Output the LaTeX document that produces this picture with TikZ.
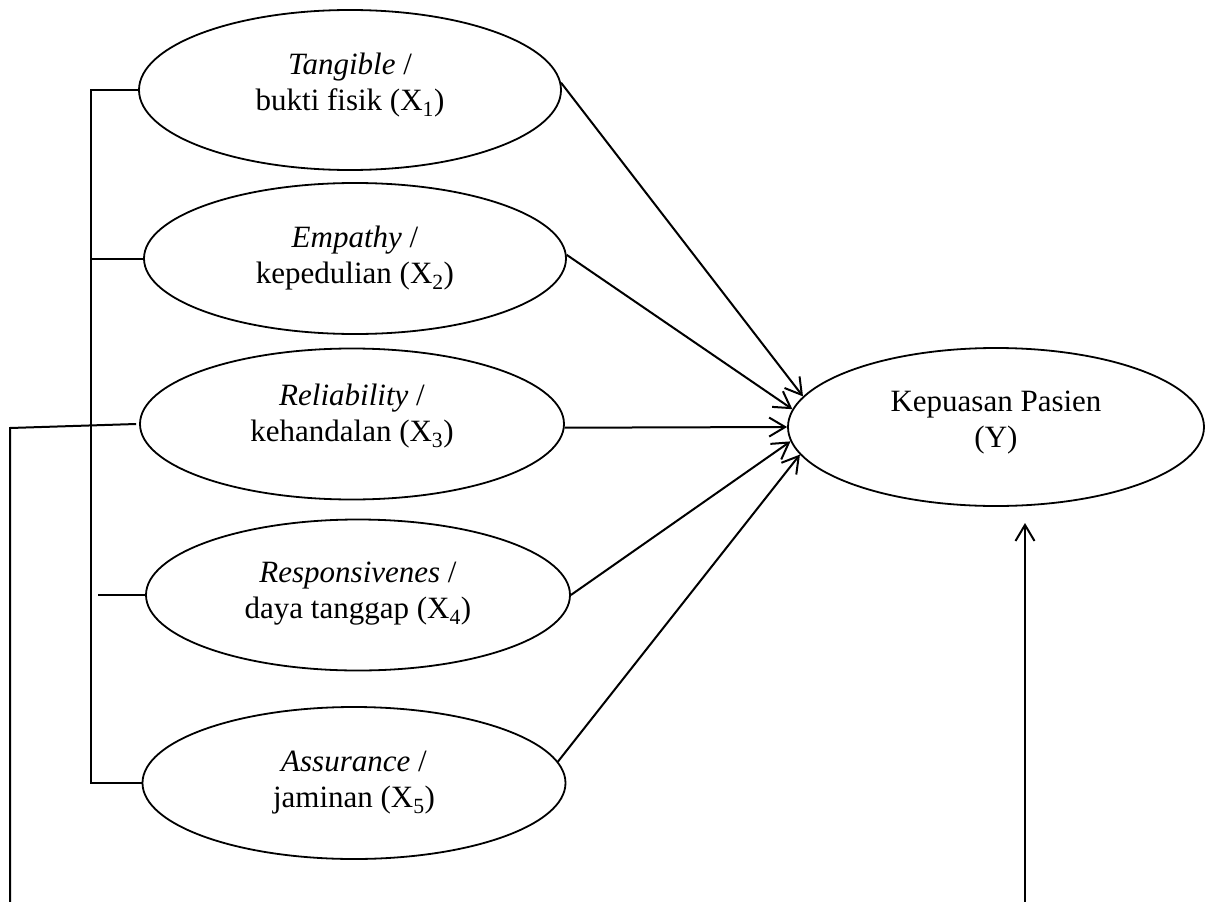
\documentclass[tikz,border=0pt]{standalone}
\usepackage{fontspec}
\setmainfont{Liberation Serif}
\usetikzlibrary{arrows.meta,shapes.geometric}
\tikzset{
  var/.style={draw, ellipse, line width=1.8pt, inner sep=0pt},
  lab/.style={inner sep=0pt, align=center, font=\fontsize{31}{36}\selectfont},
  arr/.style={-{Straight Barb[length=16pt,width=19pt]}, line width=2pt},
  ln/.style={line width=2pt},
}
\begin{document}
\begin{tikzpicture}[x=1pt,y=-1pt]
\useasboundingbox (0,0) rectangle (1208,902);
\node[var, minimum width=422pt, minimum height=160pt] (E1) at (350,90) {};
\node[var, minimum width=422pt, minimum height=151pt] (E2) at (355,258.5) {};
\node[var, minimum width=424pt, minimum height=151pt] (E3) at (352,424) {};
\node[var, minimum width=424pt, minimum height=151pt] (E4) at (358,595) {};
\node[var, minimum width=423pt, minimum height=152pt] (E5) at (354,783) {};
\node[var, minimum width=416pt, minimum height=158pt] (Y) at (996,427) {};
\node[lab] (L1) at ([yshift=5pt]E1.center) {\textit{Tangible} /\\bukti fisik (X\textsubscript{1})};
\node[lab] (L2) at (E2.center) {\textit{Empathy} /\\kepedulian (X\textsubscript{2})};
\node[lab] (L3) at ([yshift=8pt]E3.center) {\textit{Reliability} /\\kehandalan (X\textsubscript{3})};
\node[lab] (L4) at ([yshift=1pt]E4.center) {\textit{Responsivenes} /\\daya tanggap (X\textsubscript{4})};
\node[lab] (L5) at (E5.center) {\textit{Assurance} /\\jaminan (X\textsubscript{5})};
\node[lab] (LY) at ([yshift=4pt]Y.center) {Kepuasan Pasien\\(Y)};
% arrows to Y
\draw[arr] (E1.2) -- (Y.171.5);
\draw[arr] (E2.1) -- (Y.175.6);
\draw[arr] (E3.-1) -- (Y.180);
\draw[arr] (E4.east) -- (Y.184);
\draw[arr] (E5.6) -- (Y.188.7);
% left bracket
\coordinate (bx) at (91,0);
\draw[ln] (E1.west) -| (bx |- E5.west) -- (E5.west);
\draw[ln] (E2.west) -- (E2.west -| bx);
\draw[ln] (E4.west) -- ++(-47,0);
% outer line
\coordinate (ob) at (10,902);
\coordinate (oc) at (10,428);
\draw[ln] (ob) -- (oc) -- ([xshift=-3pt]E3.west);
% right arrow
\coordinate (rb) at (1025,902);
\coordinate (rt) at (1025,523);
\draw[arr] (rb) -- (rt);
\end{tikzpicture}
\end{document}
